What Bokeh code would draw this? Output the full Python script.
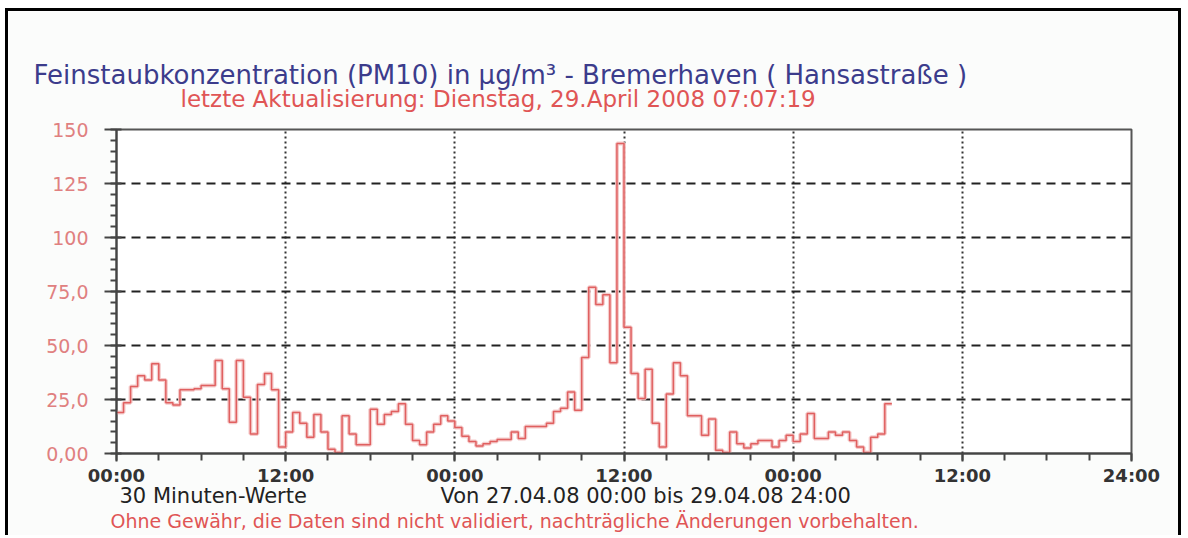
from bokeh.plotting import figure
from bokeh.models import FixedTicker, Range1d, Title
from bokeh.embed import file_html
from bokeh.resources import INLINE

# PM10 half-hour values (µg/m³), 27.04.08 00:00 onwards
day1_am = [19, 23.5, 31, 36, 34, 41.5, 34, 23.5, 22.5, 29.5, 29.5, 30, 31.5, 31.5, 43, 30, 14.5, 43, 26, 9, 32, 37, 29.5, 3]
day1_pm = [10, 19, 14, 7.5, 18, 10, 2, 0.5, 17.5, 9, 4, 4, 20.5, 13.5, 18, 19.5, 23, 13.5, 6, 4, 10, 13.5, 17.5, 15]
day2_am = [12, 8, 5.5, 3.5, 4.5, 5.5, 6.5, 6.5, 10, 7, 12.5, 12.5, 12.5, 14, 19.5, 21, 28.5, 20, 44.5, 77, 69, 73.5, 42, 143.5]
day2_pm = [58.5, 37, 25.5, 39, 14, 3, 27.5, 42, 36, 17.5, 17.5, 8.5, 16, 1.5, 0.5, 10, 4.5, 2.5, 4.5, 6, 6, 3, 6, 8.5]
day3_am = [5.5, 9, 18.5, 7, 7, 10, 8.5, 10, 6, 3, 0.5, 7.5, 9, 23]

pm10 = day1_am + day1_pm + day2_am + day2_pm + day3_am
step_hours = 0.5

x_tick_hours = [0, 12, 24, 36, 48, 60, 72]
x_tick_labels = ["00:00", "12:00", "00:00", "12:00", "00:00", "12:00", "24:00"]
y_ticks = [0, 25, 50, 75, 100, 125, 150]
y_tick_labels = ["0,00", "25,0", "50,0", "75,0", "100", "125", "150"]

title1 = "Feinstaubkonzentration (PM10) in µg/m³ - Bremerhaven ( Hansastraße )"
title2 = "letzte Aktualisierung: Dienstag, 29.April 2008 07:07:19"
sub1 = "30 Minuten-Werte"
sub2 = "Von 27.04.08 00:00 bis 29.04.08 24:00"
note = "Ohne Gewähr, die Daten sind nicht validiert, nachträgliche Änderungen vorbehalten."

xs = [i * step_hours for i in range(len(pm10) + 1)]
ys = pm10 + [pm10[-1]]

p = figure(width=1176, height=527,
           x_range=Range1d(x_tick_hours[0], x_tick_hours[-1]),
           y_range=Range1d(y_ticks[0], y_ticks[-1]),
           output_backend="svg", toolbar_location=None,
           min_border_left=108, min_border_right=53,
           min_border_top=118, min_border_bottom=81,
           background_fill_color="#ffffff", border_fill_color="#fbfcfb",
           outline_line_color="#555555", outline_line_width=2)
p.styles = {"border-top": "3px solid #000", "border-left": "3px solid #000",
            "border-right": "3px solid #000", "margin-left": "5px", "margin-top": "8px"}

# grids
p.xgrid.ticker = FixedTicker(ticks=x_tick_hours[1:-1])
p.ygrid.ticker = FixedTicker(ticks=y_ticks[1:-1])
p.xgrid.grid_line_color = "#333333"
p.xgrid.grid_line_width = 2
p.xgrid.grid_line_dash = "2 3"
p.ygrid.grid_line_color = "#222222"
p.ygrid.grid_line_width = 2
p.ygrid.grid_line_dash = "9 6"

# x axis
xa = p.xaxis[0]
xa.ticker = FixedTicker(ticks=x_tick_hours, minor_ticks=[h for h in range(0, 73, 3)])
xa.major_label_overrides = {h: l for h, l in zip(x_tick_hours, x_tick_labels)}
xa.axis_line_color = "#444444"
xa.axis_line_width = 2
xa.major_tick_line_color = "#444444"
xa.minor_tick_line_color = "#444444"
xa.major_tick_line_width = 2
xa.minor_tick_line_width = 2
xa.major_tick_out = 8
xa.major_tick_in = 0
xa.minor_tick_out = 7
xa.minor_tick_in = 0
xa.major_label_standoff = 3
xa.major_label_text_font = "DejaVu Sans"
xa.major_label_text_font_style = "bold"
xa.major_label_text_font_size = "18px"
xa.major_label_text_color = "#333333"

# y axis
ya = p.yaxis[0]
ya.ticker = FixedTicker(ticks=y_ticks, minor_ticks=[v for v in range(0, 151, 5)])
ya.major_label_overrides = {v: l for v, l in zip(y_ticks, y_tick_labels)}
ya.axis_line_color = "#444444"
ya.axis_line_width = 2
ya.major_tick_line_color = "#444444"
ya.minor_tick_line_color = "#444444"
ya.major_tick_line_width = 2
ya.minor_tick_line_width = 2
ya.major_tick_out = 12
ya.major_tick_in = 5
ya.minor_tick_out = 6
ya.minor_tick_in = 0
ya.major_label_standoff = 16
ya.major_label_text_font = "DejaVu Sans"
ya.major_label_text_font_size = "19px"
ya.major_label_text_color = "#e08080"

# data: step line with soft halo
p.step(xs, ys, mode="after", line_color="#f4c6c6", line_width=4, line_alpha=0.9)
p.step(xs, ys, mode="after", line_color="#e06060", line_width=1.5)

# titles above (first added sits nearest the frame)
p.add_layout(Title(text=title2, align="left", offset=64, standoff=35,
                   text_font="DejaVu Sans", text_font_size="23px",
                   text_font_style="normal", text_color="#e05555"), "above")
p.add_layout(Title(text=title1, align="left", offset=-83, standoff=-46,
                   text_font="DejaVu Sans", text_font_size="26px",
                   text_font_style="normal", text_color="#3c3c8c"), "above")

# texts below
nb = "\u00a0" * 20
p.add_layout(Title(text=sub1 + nb + sub2, align="left", offset=3, standoff=-14,
                   text_font="DejaVu Sans", text_font_size="21px",
                   text_font_style="normal", text_color="#222222"), "below")
p.add_layout(Title(text=note, align="left", offset=-6, standoff=14,
                   text_font="DejaVu Sans", text_font_size="19px",
                   text_font_style="normal", text_color="#e05555"), "below")

open("out.html", "w").write(file_html(p, INLINE))
